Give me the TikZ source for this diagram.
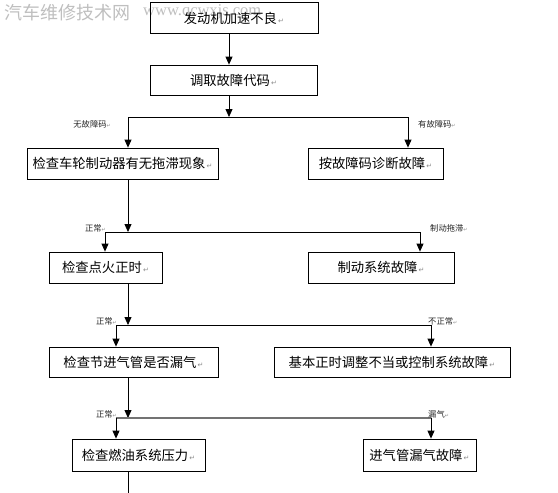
\documentclass[tikz,border=0pt]{standalone}
\usepackage{fontspec}
\setmainfont{Liberation Serif}
\newfontfamily\cjk{Noto Sans CJK SC}
\newfontfamily\dejavu{DejaVu Sans}
\usetikzlibrary{arrows.meta}
\newcommand\parmark{{\dejavu\color{black!45}\fontsize{7}{7}\selectfont\,↵}}
\newcommand\smallmark{{\dejavu\color{black!45}\fontsize{5}{5}\selectfont↵}}
\tikzset{
  stepbox/.style={draw=black, line width=0.8pt, inner sep=0pt, font=\cjk\fontsize{13.3}{13.3}\selectfont, text=black},
  arr/.style={line width=0.8pt, -{Triangle[length=8pt,width=7pt]}},
  ln/.style={line width=0.8pt},
  lbl/.style={inner sep=0pt, font=\cjk\fontsize{8.3}{8.3}\selectfont, text=black!85},
}
\begin{document}
\begin{tikzpicture}[x=1pt,y=-1pt]
\useasboundingbox[fill=white] (0,0) rectangle (558,493);
% watermark
\node[anchor=west, inner sep=0pt, text=black!25, font=\cjk\fontsize{18}{18}\selectfont] (wm1) at (4,13) {汽车维修技术网};
\node[anchor=west, inner sep=0pt, text=black!25, font=\fontsize{16.5}{16.5}\selectfont] (wm2) at (143,12) {www.qcwxjs.com};
% boxes
\node[stepbox, minimum width=168pt, minimum height=31pt] (b1) at (234,18) {发动机加速不良\parmark};
\node[stepbox, minimum width=167pt, minimum height=30pt] (b2) at (233.5,80) {调取故障代码\parmark};
\node[stepbox, minimum width=191pt, minimum height=31pt] (b3) at (122.5,163.5) {检查车轮制动器有无拖滞现象\parmark};
\node[stepbox, minimum width=135pt, minimum height=31pt] (b4) at (375.5,163.5) {按故障码诊断故障\parmark};
\node[stepbox, minimum width=113pt, minimum height=31pt] (b5) at (105.5,267.5) {检查点火正时\parmark};
\node[stepbox, minimum width=146pt, minimum height=31pt] (b6) at (381,267.5) {制动系统故障\parmark};
\node[stepbox, minimum width=169pt, minimum height=30pt] (b7) at (133.5,362) {检查节进气管是否漏气\parmark};
\node[stepbox, minimum width=236pt, minimum height=30pt] (b8) at (392,362) {基本正时调整不当或控制系统故障\parmark};
\node[stepbox, minimum width=133pt, minimum height=32pt] (b9) at (138.5,455) {检查燃油系统压力\parmark};
\node[stepbox, minimum width=113pt, minimum height=32pt] (b10) at (419.5,455) {进气管漏气故障\parmark};
% junction coordinates
\coordinate (c0) at (229,0);
\coordinate (j1) at (229,117);
\coordinate (j1l) at (128,117);
\coordinate (j1r) at (408,117);
\coordinate (j2) at (128,232);
\coordinate (j2l) at (105,232);
\coordinate (j2r) at (420,232);
\coordinate (j3) at (128,325);
\coordinate (j3l) at (116,325);
\coordinate (j3r) at (431,325);
\coordinate (j4) at (128,418);
\coordinate (j4l) at (116,418);
\coordinate (j4r) at (431,418);
\coordinate (end) at (128,493);
% connectors
\draw[arr] (b1.south -| c0) -- (b2.north -| c0);
\draw[arr] (b2.south -| c0) -- (j1);
\draw[ln] (j1l) -- (j1r);
\draw[arr] (j1l) -- (b3.north -| j1l);
\draw[arr] (j1r) -- (b4.north -| j1r);
\draw[arr] (b3.south -| j2) -- (j2);
\draw[ln] (j2l) -- (j2r);
\draw[arr] (j2l) -- (b5.north -| j2l);
\draw[arr] (j2r) -- (b6.north -| j2r);
\draw[arr] (b5.south -| j3) -- (j3);
\draw[ln] (j3l) -- (j3r);
\draw[arr] (j3l) -- (b7.north -| j3l);
\draw[arr] (j3r) -- (b8.north -| j3r);
\draw[arr] (b7.south -| j4) -- (j4);
\draw[line width=1.8pt, black!55] (j4l) -- (j4r);
\draw[arr] (j4l) -- (b9.north -| j4l);
\draw[arr] (j4r) -- (b10.north -| j4r);
\draw[ln] (b9.south -| end) -- (end);
% labels
\node[lbl, anchor=east] (l1) at (111,124) {无故障码\smallmark};
\node[lbl, anchor=west] (l2) at (418,124) {有故障码\smallmark};
\node[lbl, anchor=east] (l3) at (106,228) {正常\smallmark};
\node[lbl, anchor=west] (l4) at (430,228) {制动拖滞\smallmark};
\node[lbl, anchor=east] (l5) at (117,321) {正常\smallmark};
\node[lbl, anchor=west] (l6) at (428,321) {不正常\smallmark};
\node[lbl, anchor=east] (l7) at (117,414) {正常\smallmark};
\node[lbl, anchor=west] (l8) at (428,414) {漏气\smallmark};
\end{tikzpicture}
\end{document}
